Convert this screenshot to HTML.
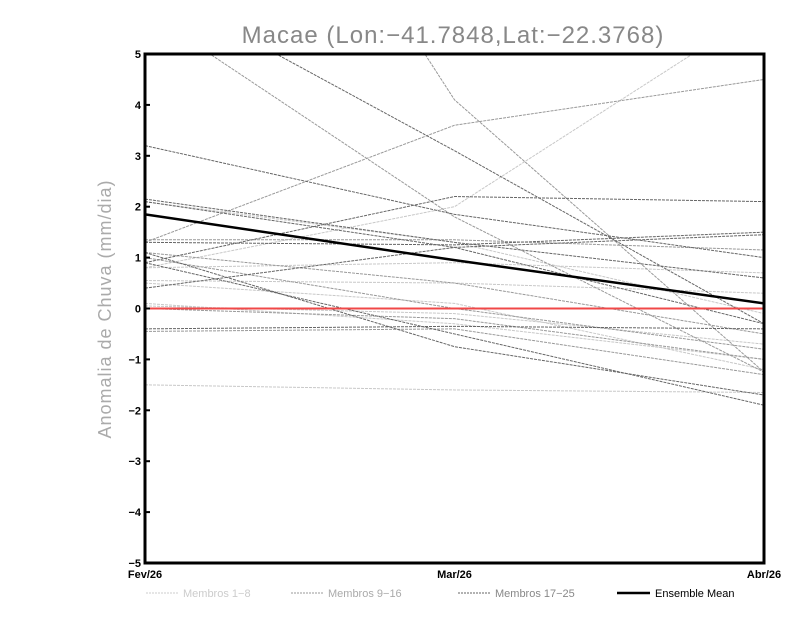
<!DOCTYPE html>
<html><head><meta charset="utf-8"><style>
body{margin:0;background:#fff;width:800px;height:618px;overflow:hidden}
svg{display:block;font-family:"Liberation Sans",sans-serif}
</style></head><body>
<svg id="chart" width="800" height="618" viewBox="0 0 800 618">
<text x="453" y="43" text-anchor="middle" font-size="24" fill="#888" letter-spacing="1">Macae (Lon:−41.7848,Lat:−22.3768)</text>
<text transform="translate(111,309) rotate(-90)" text-anchor="middle" font-size="18" fill="#aaa" letter-spacing="1">Anomalia de Chuva (mm/dia)</text>
<defs><clipPath id="clip"><rect x="145" y="54" width="619" height="509"/></clipPath></defs>
<g id="members" clip-path="url(#clip)"></g>
<g id="axes"></g>
<g id="legend" font-size="11">
<line x1="146" y1="593" x2="178" y2="593" stroke="#ccc" stroke-dasharray="2,1"/>
<text x="183" y="597" fill="#ccc">Membros 1−8</text>
<line x1="291" y1="593" x2="323" y2="593" stroke="#999" stroke-dasharray="2,1"/>
<text x="328" y="597" fill="#aaa">Membros 9−16</text>
<line x1="458" y1="593" x2="490" y2="593" stroke="#666" stroke-dasharray="2,1"/>
<text x="495" y="597" fill="#888">Membros 17−25</text>
<line x1="617" y1="593" x2="650" y2="593" stroke="#000" stroke-width="2.5"/>
<text x="655" y="597" fill="#000">Ensemble Mean</text>
</g>
</svg>
<script>
const categories=["Fev/26","Mar/26","Abr/26"];
const yTicks=[-5,-4,-3,-2,-1,0,1,2,3,4,5];
const members1to8=[[0.8,2.0,5.9],[0.55,0.5,0.3],[0.5,0.1,-1.2],[-1.5,-1.6,-1.65],[0.1,-0.3,-1.0],[0.05,-0.1,-0.7],[0.8,0.9,0.7],[2.1,1.3,-0.1]];
const members9to16=[[5.85,1.8,-1.25],[13.5,4.1,-1.25],[1.3,3.6,4.5],[1.0,0.0,-0.8],[0.0,-0.2,-1.0],[-0.45,-0.4,-1.3],[1.1,0.5,-0.5],[1.35,1.35,1.15]];
const members17to25=[[6.4,3.1,-0.3],[3.2,1.85,1.0],[0.9,2.2,2.1],[2.15,1.3,0.6],[2.1,1.2,-0.3],[1.3,1.25,1.5],[0.4,1.2,1.45],[-0.4,-0.35,-0.4],[1.1,-0.75,-1.7],[0.9,-0.5,-1.9]];
const ensembleMean=[1.85,0.95,0.1];
const X0=145,X1=764,Y0=563,Y1=54;
const xs=i=>X0+(X1-X0)*i/(categories.length-1);
const ys=v=>Y0-(v+5)/10*(Y0-Y1);
const NS="http://www.w3.org/2000/svg";
const mg=document.getElementById('members'),ag=document.getElementById('axes');
function pl(parent,vals,stroke,w,dash){const p=document.createElementNS(NS,'polyline');p.setAttribute('points',vals.map((v,i)=>xs(i)+','+ys(v)).join(' '));p.setAttribute('fill','none');p.setAttribute('stroke',stroke);p.setAttribute('stroke-width',w);if(dash)p.setAttribute('stroke-dasharray',dash);parent.appendChild(p);return p;}
members1to8.forEach((m,i)=>{const p=pl(mg,m,'#c8c8c8',1,'3,1');

});
members9to16.forEach((m,i)=>{const p=pl(mg,m,'#999',1,'3,1');

});
members17to25.forEach((m,i)=>{const p=pl(mg,m,'#666',1,'3,1');

});
const z=document.createElementNS(NS,'line');z.setAttribute('x1',X0);z.setAttribute('x2',X1);z.setAttribute('y1',ys(0));z.setAttribute('y2',ys(0));z.setAttribute('stroke','#f04848');z.setAttribute('stroke-width',2);


mg.appendChild(z);
const em=pl(mg,ensembleMean,'#000',2.5,null);


const fr=document.createElementNS(NS,'rect');fr.setAttribute('x',X0);fr.setAttribute('y',Y1);fr.setAttribute('width',X1-X0);fr.setAttribute('height',Y0-Y1);fr.setAttribute('fill','none');fr.setAttribute('stroke','#000');fr.setAttribute('stroke-width',3);


ag.appendChild(fr);
yTicks.forEach(t=>{const y=ys(t);const l=document.createElementNS(NS,'line');l.setAttribute('x1',X0);l.setAttribute('x2',X0+5);l.setAttribute('y1',y);l.setAttribute('y2',y);l.setAttribute('stroke','#000');l.setAttribute('stroke-width',2);ag.appendChild(l);
const tx=document.createElementNS(NS,'text');tx.setAttribute('x',X0-4);tx.setAttribute('y',y+4);tx.setAttribute('text-anchor','end');tx.setAttribute('font-size','11');tx.setAttribute('font-weight','bold');tx.textContent=t<0?'−'+(-t):String(t);


ag.appendChild(tx);});
categories.forEach((c,i)=>{const tx=document.createElementNS(NS,'text');tx.setAttribute('x',xs(i));tx.setAttribute('y',578);tx.setAttribute('text-anchor','middle');tx.setAttribute('font-size','11');tx.setAttribute('font-weight','bold');tx.textContent=c;


ag.appendChild(tx);});
</script>
</body></html>
